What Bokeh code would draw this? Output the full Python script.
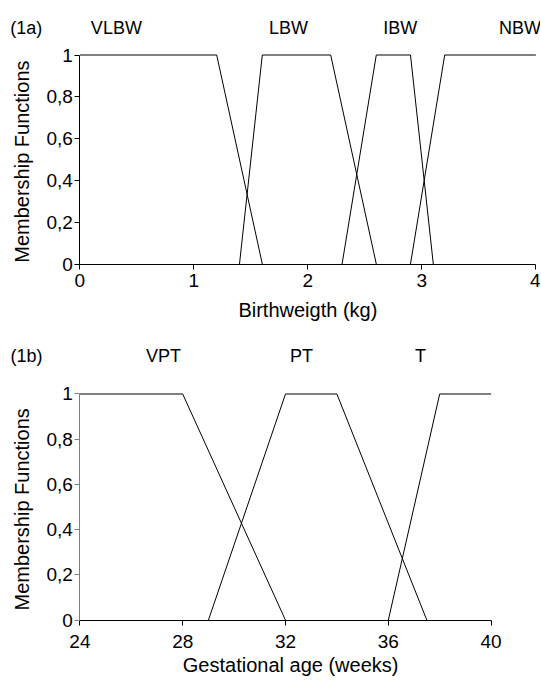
import math
from bokeh.plotting import figure
from bokeh.models import ColumnDataSource, FixedTicker, Range1d
from bokeh.layouts import column
from bokeh.embed import file_html
from bokeh.resources import INLINE
from bokeh.core.properties import value

# ---- data: panel (1a) birthweight membership functions ----
bw_vlbw_x = [0.0, 1.2, 1.6]
bw_vlbw_y = [1, 1, 0]
bw_lbw_x = [1.4, 1.6, 2.2, 2.6]
bw_lbw_y = [0, 1, 1, 0]
bw_ibw_x = [2.3, 2.6, 2.9, 3.1]
bw_ibw_y = [0, 1, 1, 0]
bw_nbw_x = [2.9, 3.2, 4.0]
bw_nbw_y = [0, 1, 1]
bw_labels = ["(1a)", "VLBW", "LBW", "IBW", "NBW"]
bw_label_x = [-0.47, 0.32, 1.83, 2.81, 3.86]
bw_ticks = [0, 1, 2, 3, 4]
bw_xtitle = "Birthweigth (kg)"

# ---- data: panel (1b) gestational age membership functions ----
ga_vpt_x = [24, 28, 32]
ga_vpt_y = [1, 1, 0]
ga_pt_x = [29, 32, 34, 37.5]
ga_pt_y = [0, 1, 1, 0]
ga_t_x = [36, 38, 40]
ga_t_y = [0, 1, 1]
ga_labels = ["(1b)", "VPT", "PT", "T"]
ga_label_x = [21.92, 27.25, 32.62, 37.25]
ga_ticks = [24, 28, 32, 36, 40]
ga_xtitle = "Gestational age (weeks)"

mf_ticks = [0, 0.2, 0.4, 0.6, 0.8, 1]
mf_tick_labels = ["0", "0,2", "0,4", "0,6", "0,8", "1"]
mf_title = "Membership Functions"

FONT = "Liberation Sans"
TICK_FS = "19px"
TITLE_FS = "20px"
LABEL_FS = "18px"


def make_panel(xr, yr, x_bounds, xticks, fw, fh, tick_standoff_x, yaxis_color):
    p = figure(frame_width=fw, frame_height=fh,
               x_range=Range1d(*xr), y_range=Range1d(*yr),
               output_backend="svg", toolbar_location=None,
               min_border_left=0, min_border_right=0,
               min_border_top=0, min_border_bottom=0)
    p.outline_line_color = None
    p.xgrid.visible = False
    p.ygrid.visible = False
    p.background_fill_color = "white"
    p.border_fill_color = "white"

    xa = p.xaxis[0]
    xa.fixed_location = 0
    xa.ticker = FixedTicker(ticks=xticks)
    xa.bounds = x_bounds
    xa.minor_tick_line_color = None
    xa.major_tick_in = 0
    xa.major_tick_out = 5
    xa.axis_line_color = "black"
    xa.major_tick_line_color = "black"
    xa.major_label_text_font = FONT
    xa.major_label_text_font_size = TICK_FS
    xa.major_label_text_color = "black"
    xa.major_label_standoff = tick_standoff_x

    ya = p.yaxis[0]
    ya.fixed_location = x_bounds[0]
    ya.ticker = FixedTicker(ticks=mf_ticks)
    ya.major_label_overrides = {t: l for t, l in zip(mf_ticks, mf_tick_labels)}
    ya.bounds = (0, 1)
    ya.minor_tick_line_color = None
    ya.major_tick_in = 0
    ya.major_tick_out = 5
    ya.axis_line_color = yaxis_color
    ya.major_tick_line_color = yaxis_color
    ya.major_label_text_font = FONT
    ya.major_label_text_font_size = TICK_FS
    ya.major_label_text_color = "black"
    ya.major_label_standoff = 2
    return p


def add_texts(p, xs, ys, texts, size, angle=0.0):
    src = ColumnDataSource(dict(x=xs, y=ys, text=texts))
    p.text(x="x", y="y", text="text", source=src, angle=angle,
           text_font=value(FONT), text_font_size=value(size),
           text_align="center", text_baseline="middle", text_color="black")


# ---- panel (1a) ----
p1 = make_panel((-0.6965, 4.0404), (-0.3421, 1.2608), (0, 4), bw_ticks,
                540, 335, 5, "black")
for xs, ys in [(bw_vlbw_x, bw_vlbw_y), (bw_lbw_x, bw_lbw_y),
               (bw_ibw_x, bw_ibw_y), (bw_nbw_x, bw_nbw_y)]:
    p1.line(xs, ys, line_color="black", line_width=1)
add_texts(p1, bw_label_x, [1.13] * len(bw_labels), bw_labels, LABEL_FS)
add_texts(p1, [2.0], [-0.222], [bw_xtitle], TITLE_FS)
add_texts(p1, [-0.505], [0.49], [mf_title], TITLE_FS, angle=math.pi / 2)

# ---- panel (1b) ----
p2 = make_panel((20.911, 41.922), (-0.2754, 1.2586), (24, 40), ga_ticks,
                540, 347, 10, "#808080")
for xs, ys in [(ga_vpt_x, ga_vpt_y), (ga_pt_x, ga_pt_y), (ga_t_x, ga_t_y)]:
    p2.line(xs, ys, line_color="black", line_width=1)
add_texts(p2, ga_label_x, [1.17] * len(ga_labels), ga_labels, LABEL_FS)
add_texts(p2, [32.2], [-0.2], [ga_xtitle], TITLE_FS)
add_texts(p2, [21.76], [0.49], [mf_title], TITLE_FS, angle=math.pi / 2)

layout = column(p1, p2)
open("out.html", "w").write(file_html(layout, INLINE))
